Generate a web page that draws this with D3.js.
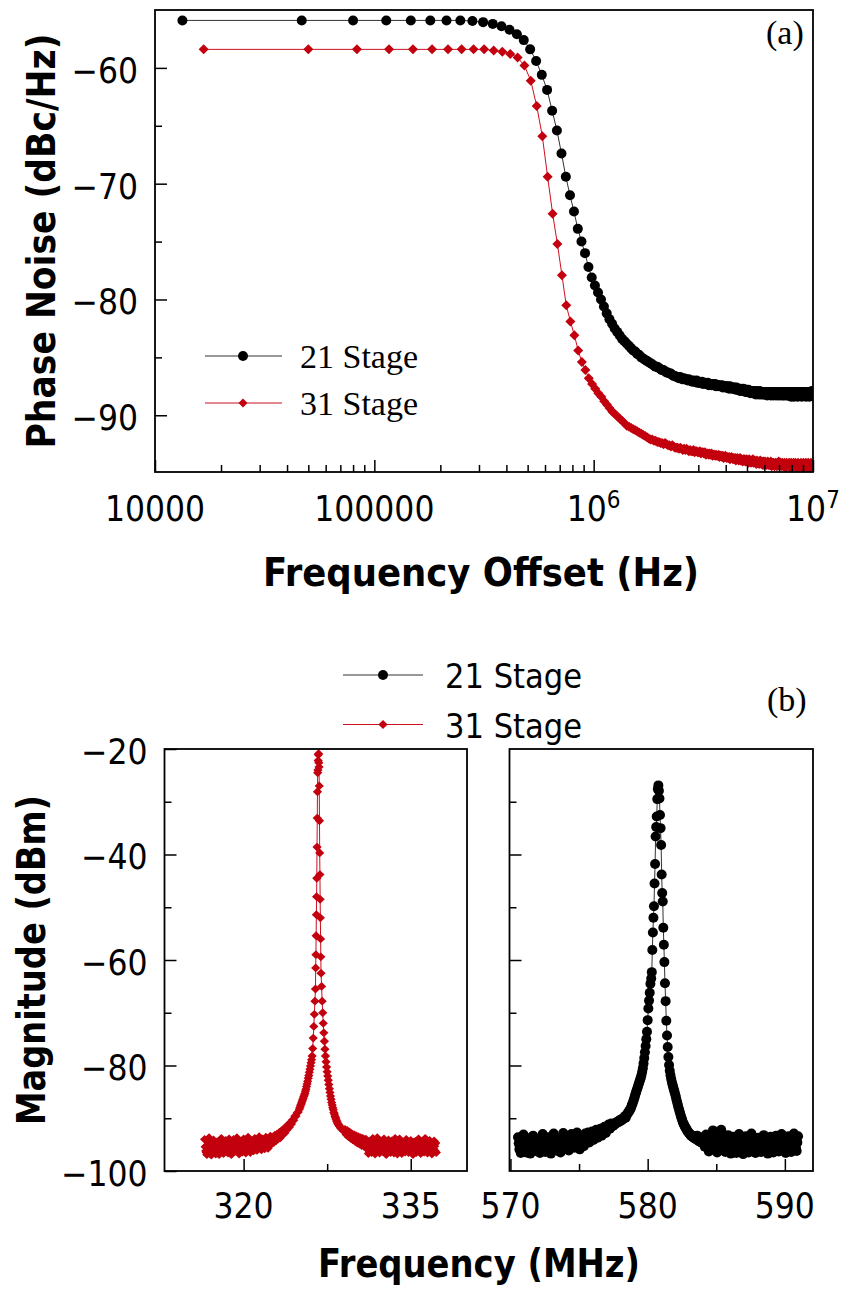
<!DOCTYPE html>
<html>
<head>
<meta charset="utf-8">
<script src="https://cdn.jsdelivr.net/npm/d3@7"></script>
<style>
  body { margin: 0; background: #fff; }
  svg { display: block; background: #fff; }
</style>
</head>
<body>
<svg id="fig" width="843" height="1289"></svg>
<script>
// ---------- panel (a): phase noise, sweep of 33.33 kHz steps ----------
const aFreqStart21 = 13333.3;
const aFreqStart31 = 16666.7;
const aFreqStep = 33333.3;

const a21Mag = [
  -55.9,-55.9,-55.9,-55.9,-55.9,-55.9,-55.9,-55.9,-55.95,-56.05,
  -56.2,-56.4,-56.7,-57.1,-57.6,-58.4,-59.4,-60.6,-61.9,-63.7,
  -65.4,-67.4,-69.4,-71.0,-72.4,-73.9,-75.0,-76.0,-77.2,-78.1,
  -78.8,-79.4,-80.0,-80.6,-81.2,-81.7,-82.1,-82.5,-82.8,-83.1,
  -83.4,-83.6,-83.8,-84.0,-84.2,-84.4,-84.5,-84.7,-84.8,-85.0,
  -85.1,-85.2,-85.3,-85.4,-85.5,-85.6,-85.7,-85.8,-85.8,-85.9,
  -86.0,-86.1,-86.1,-86.2,-86.3,-86.3,-86.4,-86.4,-86.5,-86.6,
  -86.6,-86.7,-86.7,-86.8,-86.7,-86.8,-86.9,-86.8,-86.9,-86.9,
  -87.0,-86.9,-87.0,-87.0,-87.1,-87.0,-87.1,-87.1,-87.0,-87.2,
  -87.1,-87.2,-87.2,-87.1,-87.3,-87.2,-87.2,-87.3,-87.3,-87.2,
  -87.4,-87.3,-87.3,-87.4,-87.3,-87.4,-87.4,-87.3,-87.5,-87.4,
  -87.4,-87.5,-87.4,-87.5,-87.5,-87.4,-87.6,-87.5,-87.5,-87.6,
  -87.5,-87.6,-87.5,-87.6,-87.7,-87.5,-87.6,-87.6,-87.7,-87.6,
  -87.7,-87.6,-87.7,-87.8,-87.6,-87.7,-87.8,-87.7,-87.8,-87.9,
  -87.7,-87.8,-87.8,-87.9,-87.7,-87.9,-87.8,-87.9,-88.0,-87.8,
  -87.9,-88.0,-87.8,-87.9,-88.0,-88.1,-87.9,-88.0,-87.9,-88.1,
  -88.0,-87.9,-88.1,-88.0,-88.2,-87.9,-88.0,-88.1,-88.0,-88.2,
  -88.1,-87.9,-88.1,-88.2,-88.0,-88.1,-88.0,-88.2,-88.1,-88.0,
  -88.2,-88.1,-88.0,-88.2,-88.1,-88.3,-88.0,-88.1,-88.2,-88.1,
  -88.0,-88.2,-88.3,-88.1,-88.0,-88.2,-88.1,-88.3,-88.2,-88.0,
  -88.1,-88.2,-88.0,-88.3,-88.2,-88.1,-88.0,-88.2,-88.3,-88.1,
  -88.2,-88.0,-88.1,-88.3,-88.2,-88.1,-88.2,-88.0,-88.3,-88.1,
  -88.2,-88.3,-88.1,-88.0,-88.2,-88.1,-88.3,-88.2,-88.0,-88.1,
  -88.3,-88.2,-88.1,-88.2,-88.0,-88.3,-88.1,-88.2,-88.4,-88.1,
  -88.0,-88.2,-88.3,-88.1,-88.2,-88.4,-88.0,-88.2,-88.1,-88.3,
  -88.2,-88.0,-88.3,-88.1,-88.2,-88.4,-88.1,-88.0,-88.2,-88.3,
  -88.1,-88.2,-88.3,-88.0,-88.2,-88.1,-88.4,-88.2,-88.0,-88.3,
  -88.2,-88.1,-88.3,-88.2,-88.0,-88.3,-88.1,-88.2,-88.4,-88.1,
  -88.2,-88.3,-88.0,-88.2,-88.1,-88.3,-88.2,-88.1,-88.4,-88.2,
  -88.0,-88.3,-88.2,-88.1,-88.3,-88.2,-87.9,-88.3,-88.1,-88.2
];

const a31Mag = [
  -58.4,-58.4,-58.4,-58.4,-58.4,-58.4,-58.4,-58.4,-58.4,-58.4,
  -58.5,-58.6,-58.8,-59.1,-59.8,-61.1,-63.3,-65.9,-69.4,-72.6,
  -75.2,-77.9,-80.5,-81.9,-83.1,-84.4,-85.4,-86.1,-86.8,-87.3,
  -87.7,-88.1,-88.4,-88.8,-89.1,-89.4,-89.7,-89.9,-90.1,-90.3,
  -90.5,-90.7,-90.9,-91.0,-91.1,-91.2,-91.3,-91.4,-91.5,-91.6,
  -91.7,-91.8,-91.9,-92.0,-92.1,-92.1,-92.2,-92.2,-92.3,-92.3,
  -92.4,-92.4,-92.5,-92.4,-92.5,-92.6,-92.6,-92.7,-92.6,-92.7,
  -92.8,-92.8,-92.8,-92.9,-92.8,-92.9,-93.0,-92.9,-93.0,-92.9,
  -93.0,-93.1,-93.0,-93.1,-93.1,-93.0,-93.2,-93.1,-93.1,-93.2,
  -93.2,-93.1,-93.3,-93.2,-93.2,-93.3,-93.2,-93.4,-93.3,-93.3,
  -93.4,-93.3,-93.4,-93.3,-93.5,-93.4,-93.4,-93.5,-93.4,-93.5,
  -93.5,-93.4,-93.6,-93.5,-93.5,-93.6,-93.5,-93.7,-93.6,-93.5,
  -93.6,-93.7,-93.6,-93.7,-93.6,-93.8,-93.7,-93.6,-93.7,-93.8,
  -93.7,-93.8,-93.7,-93.9,-93.8,-93.7,-93.8,-93.9,-93.8,-93.7,
  -93.9,-93.8,-93.9,-94.0,-93.8,-93.9,-93.8,-94.0,-93.9,-93.8,
  -94.0,-93.9,-94.1,-93.8,-93.9,-94.0,-94.1,-93.9,-94.0,-93.8,
  -94.1,-94.0,-93.9,-94.1,-94.0,-94.2,-93.9,-94.0,-94.1,-94.0,
  -94.2,-94.0,-93.9,-94.1,-94.2,-94.0,-94.1,-94.3,-94.0,-94.1,
  -94.2,-94.0,-94.1,-94.3,-94.1,-94.2,-94.0,-94.3,-94.2,-94.1,
  -94.3,-94.2,-94.0,-94.2,-94.4,-94.1,-94.2,-94.3,-94.1,-94.2,
  -94.4,-94.2,-94.1,-94.3,-94.2,-94.4,-94.1,-94.3,-94.2,-94.0,
  -94.3,-94.4,-94.2,-94.1,-94.3,-94.2,-94.4,-94.1,-94.3,-94.2,
  -94.4,-94.2,-94.1,-94.3,-94.5,-94.2,-94.3,-94.1,-94.4,-94.2,
  -94.3,-94.2,-94.4,-94.1,-94.3,-94.5,-94.2,-94.3,-94.1,-94.4,
  -94.2,-94.3,-94.5,-94.2,-94.1,-94.4,-94.3,-94.2,-94.4,-94.1,
  -94.3,-94.2,-94.4,-94.5,-94.2,-94.3,-94.1,-94.4,-94.2,-94.3,
  -94.5,-94.2,-94.3,-94.4,-94.1,-94.3,-94.2,-94.5,-94.3,-94.2,
  -94.4,-94.1,-94.3,-94.2,-94.5,-94.3,-94.2,-94.4,-94.1,-94.3,
  -94.2,-94.4,-94.3,-94.5,-94.2,-94.1,-94.4,-94.3,-94.2,-94.5,
  -94.3,-94.2,-94.4,-94.1,-94.3,-94.5,-94.2,-94.3,-94.4,-94.2
];

const aXTicks = [1e4, 1e5, 1e6, 1e7];
const aXLabelBase = ['10000', '100000', '10', '10'];
const aXLabelSup = ['', '', '6', '7'];
const aXMinor = [2e4,3e4,4e4,5e4,6e4,7e4,8e4,9e4, 2e5,3e5,4e5,5e5,6e5,7e5,8e5,9e5, 2e6,3e6,4e6,5e6,6e6,7e6,8e6,9e6];
const aYTicks = [-60, -70, -80, -90];
const aYMinor = [-65, -75, -85];

// ---------- panel (b): spectra in MHz, each sweep piece = [start, step, magnitudes] ----------
const b31FloorLow = [
  -94.0,-96.2,-96.9,-95.0,-93.7,-96.4,-97.0,-95.3,-94.1,-95.9,
  -96.8,-94.5,-95.4,-96.9,-94.8,-93.8,-96.1,-96.7,-95.2,-94.2,
  -95.7,-96.6,-93.9,-95.1,-96.9,-95.5,-94.0,-96.3,-94.9,-93.7,
  -95.9,-96.8,-94.4,-95.3,-96.4,-93.9,-94.8,-96.6,-95.1,-93.6,
  -95.6,-96.5,-94.3,-95.0,-96.2,-93.8,-94.6,-96.1,-94.9,-93.5,
  -95.2,-96.0,-93.9,-94.7,-95.8,-93.6,-94.5,-95.7,-94.1,-93.4,
  -94.9,-93.6,-94.6,-93.2,-94.3,-93.0,-93.9,-92.7,-93.7,-92.4,
  -93.1,-92.0,-92.8,-91.7,-92.2,-91.2,-91.7,-90.8,-91.1,-90.3,
  -90.4,-89.6,-89.6,-89.0,-88.8,-88.3
];
const b31FloorLowB = [
  -95.4,-96.5,-95.8,-94.6,-95.1,-96.3,-95.6,-94.7,-95.0,-96.0,
  -95.7,-94.9,-96.2,-95.8,-94.4,-95.3,-96.4,-95.7,-94.8,-95.0,
  -96.1,-95.4,-94.6,-95.9,-96.2,-94.8,-95.2,-95.6,-94.5,-94.9,
  -96.3,-95.5,-94.7,-96.0,-95.3,-94.6,-95.8,-95.5,-94.4,-94.9,
  -96.2,-95.1,-94.8,-95.7,-95.0,-94.5,-95.6,-95.2,-94.3,-94.6,
  -95.7,-94.9,-94.5,-95.5,-94.7,-94.4,-95.3,-94.8,-94.1,-94.3
];
const b31FlankLow = [
  -88.0,-87.7,-87.4,-87.1,-86.8,-86.5,-86.2,-85.9,-85.6,-85.3,
  -84.9,-84.5,-84.0,-83.5,-83.0,-82.4,-81.9,-81.3,-80.7,-80.1,
  -79.5,-78.9,-78.2,-76.8,-74.8,-72.6,-70.3,-67.8,-65.5
];
const b31Peak = [
  -61.5,-59.0,-55.4,-51.4,-48.0,-44.5,-38.6,-33.1,-28.1,-24.5,-24.0,-22.2,-21.1,
  -20.9,-22.6,-23.4,-27.0,-33.6,-39.7,-43.8,-48.5,-52.0,-56.0,-59.4,-62.5
];
const b31FlankHigh = [
  -65.0,-67.8,-70.0,-72.0,-73.8,-75.4,-76.9,-78.2,-79.3,-80.3,
  -81.2,-82.0,-82.8,-83.6,-84.4,-85.1,-85.8,-86.4,-87.0,-87.5,
  -88.0,-88.4,-88.9,-89.2,-89.6,-89.9,-90.2,-90.5,-90.7,-91.0,
  -91.2,-91.3,-91.5,-91.6,-91.8,-91.9,-92.0,-92.1,-92.2,-92.3,
  -92.4
];
const b31FloorHigh = [
  -92.1,-93.1,-92.3,-93.5,-92.6,-93.8,-92.9,-94.1,-93.1,-94.4,
  -93.3,-94.7,-93.5,-94.9,-93.7,-95.2,-93.8,-95.3,-94.0,
  -94.0,-95.9,-96.7,-94.4,-95.3,-96.5,-93.8,-95.0,-96.8,-94.9,
  -93.7,-96.1,-96.6,-94.5,-95.4,-96.3,-93.9,-94.8,-96.9,-95.6,
  -94.1,-95.8,-96.5,-94.3,-95.2,-96.6,-93.8,-95.5,-96.8,-95.0,
  -93.9,-96.2,-96.7,-94.6,-95.6,-96.4,-94.0,-94.9,-96.5,-95.8,
  -94.2,-95.3,-96.9,-94.8,-94.4,-96.5,-95.5,-93.9,-96.0,-96.7,
  -94.6,-95.2,-96.4,-93.8,-95.7,-96.6,-95.0,-94.2,-95.9,-96.8,
  -94.9,-94.3,-96.2,-96.5
];
const b31FloorHighB = [
  -95.0,-94.8,-95.6,-95.7,-94.6,-95.9,-95.1,-94.4,-95.8,-96.0,
  -95.2,-94.9,-95.5,-96.2,-94.8,-95.0,-95.7,-94.6,-95.4,-96.1,
  -94.9,-95.3,-95.9,-94.7,-95.6,-96.0,-94.5,-95.2,-95.8,-95.3,
  -94.6,-95.5,-96.1,-94.8,-95.1,-95.9,-94.7,-95.4,-95.6,-94.9,
  -95.7,-96.0,-94.6,-95.3,-95.8,-94.5,-95.0,-96.2,-95.4,-94.7,
  -95.5,-95.9,-94.8,-95.2,-96.0,-94.6,-95.4,-95.7,-94.9,-95.1,
  -95.8,-95.3,-94.7
];
const b31Sweeps = [
  [316.5, 0.1, b31FloorLow],
  [316.55, 0.1, b31FloorLowB],
  [325.05, 0.05, b31FlankLow],
  [326.47, 0.02, b31Peak],
  [327.0, 0.05, b31FlankHigh],
  [329.1, 0.1, b31FloorHigh],
  [331.05, 0.1, b31FloorHighB]
];

const b21FloorLow = [
  -93.6,-95.9,-96.6,-94.5,-93.1,-95.6,-96.5,-94.0,-94.9,-96.7,
  -95.2,-93.3,-94.5,-96.2,-93.9,-95.4,-96.6,-94.8,-93.0,-95.8,
  -96.4,-94.3,-93.6,-95.9,-96.7,-94.5,-92.9,-94.9,-96.1,-93.8,
  -95.2,-96.5,-94.1,-92.8,-94.7,-95.7,-93.5,-96.1,-94.8,-93.0,
  -94.4,-95.6,-93.7,-92.7,-95.0,-95.9,-93.4,-94.6,-95.3,-92.9,
  -94.0,-92.7,-94.6,-93.4,-92.5,-94.1,-93.0,-92.2,-93.7,-92.5,
  -92.0,-93.3,-92.2,-91.6,-92.8,-91.6,-91.2,-92.0,-91.0
];
const b21FloorLowB = [
  -94.8,-94.9,-95.3,-95.6,-94.2,-94.5,-95.2,-95.0,-93.8,-95.5,
  -95.9,-94.1,-95.0,-95.3,-94.4,-94.7,-95.8,-93.9,-94.6,-95.2,
  -95.1,-94.0,-94.8,-95.6,-95.0,-93.7,-94.6,-95.5,-95.0,-94.1,
  -95.7,-95.3,-93.9,-94.4,-95.1,-94.6,-94.8,-95.4,-93.8,-94.3,
  -95.0,-94.7,-93.6,-94.2,-95.3,-94.5,-94.1,-94.9,-93.8
];
const b21FlankLow = [
  -91.5,-91.3,-91.4,-91.1,-91.2,-90.9,-91.0,-90.7,-90.8,-90.6,
  -90.7,-90.4,-90.5,-90.3,-90.4,-90.1,-90.2,-89.9,-89.9,-89.6,
  -89.9,-89.4,-89.3,-89.0,-88.9,-88.6,-88.5,-88.2,-87.9,-87.5,
  -87.2,-86.8,-86.4,-86.0,-85.5,-85.1,-84.7,-84.3,-83.9,-83.5,
  -83.1,-82.7,-82.3,-81.8,-81.2,-80.5,-79.6,-78.6,-77.5,-76.3,
  -75.0,-73.6,-71.4,-69.2,-67.7,-66.2,-64.5
];
const b21Peak = [
  -63.5,-62.3,-58.1,-54.8,-52.0,-49.8,-45.5,-41.8,-36.6,-34.8,-32.8,-29.5,-27.6,
  -26.9,-27.9,-29.4,-32.5,-35.0,-38.2,-43.8,-47.3,-48.9,-53.9,-57.1,-60.4
];
const b21FlankHigh = [
  -64.4,-67.8,-71.5,-74.3,-76.5,-78.4,-79.9,-81.0,-81.8,-82.5,
  -83.1,-83.6,-84.1,-84.6,-85.0,-85.5,-86.0,-86.6,-87.1,-87.6,
  -88.1,-88.6,-89.0,-89.5,-89.9,-90.3,-90.7,-91.0,-91.3,-91.5,
  -91.8,-92.0,-92.2,-92.5,-92.6,-92.8,-93.0,-93.1,-93.3,-93.2,
  -93.5,-93.4,-93.7,-93.5,-93.9,-93.6,-94.0,-93.3,-94.2,-93.8,
  -94.4,-93.6,-94.5,-94.0,-94.7,-93.9,-94.6
];
const b21FloorHigh = [
  -95.4,-93.1,-94.8,-96.3,-93.4,-94.6,-92.3,-93.0,-95.6,-96.5,
  -94.1,-92.6,-92.2,-93.5,-95.5,-96.4,-94.6,-93.2,-95.7,-96.7,
  -94.9,-93.5,-95.9,-96.6,-94.2,-93.0,-94.8,-96.2,-96.8,-94.6,
  -93.4,-95.1,-96.5,-94.0,-92.9,-94.6,-95.8,-96.6,-94.9,-93.7,
  -95.4,-96.4,-94.1,-93.2,-94.9,-96.1,-96.7,-94.7,-93.5,-95.5,
  -96.5,-94.4,-93.3,-95.3,-96.3,-94.2,-93.0,-94.7,-96.0,-96.6,
  -94.5,-93.4,-95.4,-96.4,-94.1,-92.9,-94.8,-96.2,-93.4
];
const b21FloorHighB = [
  -94.2,-94.0,-95.5,-94.9,-93.8,-93.5,-93.6,-94.4,-95.9,-95.2,
  -93.3,-93.4,-93.9,-94.6,-95.8,-95.0,-94.1,-94.3,-96.0,-95.4,
  -94.3,-94.8,-96.1,-95.3,-93.7,-94.1,-95.6,-95.5,-95.1,-94.0,
  -94.3,-95.9,-95.2,-93.6,-94.0,-95.3,-96.0,-95.6,-94.1,-94.5,
  -96.0,-95.1,-93.8,-94.3,-95.6,-96.2,-95.5,-94.2,-94.6,-95.9,
  -95.3,-93.8,-94.4,-95.9,-95.2,-93.7,-94.0,-95.6,-96.1,-95.2,
  -94.1,-94.6,-96.0,-95.0,-93.6,-94.0,-95.6,-94.6
];
const b21Sweeps = [
  [570.55, 0.1, b21FloorLow],
  [570.6, 0.1, b21FloorLowB],
  [577.40, 0.05, b21FlankLow],
  [580.26, 0.04, b21Peak],
  [581.26, 0.05, b21FlankHigh],
  [584.16, 0.1, b21FloorHigh],
  [584.21, 0.1, b21FloorHighB]
];

const bYTicks = [-20, -40, -60, -80, -100];
const bYMinor = [-30, -50, -70, -90];
const bLeftXTicks = [320, 335];
const bLeftXMinor = [327.5];
const bRightXTicks = [570, 580, 590];
const bRightXMinor = [575, 585];

const seriesNames = ['21 Stage', '31 Stage'];

// ---------- drawing ----------
const svg = d3.select('#fig');
const NUM_FONT = "'DejaVu Sans Condensed', 'DejaVu Sans', sans-serif";
const SERIF = "'Liberation Serif', 'Times New Roman', serif";
const RED = '#c3000e';
const RED_LINE = '#cc1020';
const BLACK_LINE = '#333';

const circlePath = r => d3.symbol(d3.symbolCircle, Math.PI * r * r)();
const diamondPath = (w, h) => `M0,${-h}L${w},0L0,${h}L${-w},0Z`;

// interleaved sweep pieces -> one list ordered by frequency
function sweepPoints(sweeps) {
    const pts = [];
    sweeps.forEach(([start, step, mags]) => {
        mags.forEach((m, i) => pts.push({ f: start + i * step, m: m }));
    });
    return pts.sort((a, b) => a.f - b.f);
}

function drawSeries(g, pts, x, y, fill, lineColor, marker) {
    g.append('path')
        .datum(pts)
        .attr('fill', 'none')
        .attr('stroke', lineColor)
        .attr('stroke-width', 1)
        .attr('d', d3.line().x(d => x(d.f)).y(d => y(d.m)));
    g.append('g').selectAll('path')
        .data(pts)
        .enter()
        .append('path')
        .attr('d', marker)
        .attr('fill', fill)
        .attr('transform', d => `translate(${x(d.f)},${y(d.m)})`);
}

function panelBase(id, box) {
    const g = svg.append('g');
    g.append('clipPath').attr('id', id)
        .append('rect')
        .attr('x', box.left).attr('y', box.top)
        .attr('width', box.right - box.left).attr('height', box.bottom - box.top);
    return g;
}

// inward ticks, drawn with d3 axes (labels optional)
function yTicks(g, y, x0, major, minor, withLabels) {
    g.append('g')
        .attr('transform', `translate(${x0},0)`)
        .call(d3.axisLeft(y).tickValues(major).tickSize(-12).tickPadding(17)
            .tickFormat(withLabels ? d3.format('d') : ''))
        .call(a => a.select('.domain').remove())
        .call(a => a.selectAll('line').attr('stroke-width', 1.5))
        .call(a => a.selectAll('text').attr('dy', '0.41em'))
        .attr('font-size', 35).attr('font-family', NUM_FONT);
    g.append('g')
        .attr('transform', `translate(${x0},0)`)
        .call(d3.axisLeft(y).tickValues(minor).tickSize(-7).tickFormat(''))
        .call(a => a.select('.domain').remove())
        .call(a => a.selectAll('line').attr('stroke-width', 1.5));
}

function xTicks(g, x, y0, major, minor) {
    g.append('g')
        .attr('transform', `translate(0,${y0})`)
        .call(d3.axisBottom(x).tickValues(major).tickSize(-12).tickFormat(''))
        .call(a => a.select('.domain').remove())
        .call(a => a.selectAll('line').attr('stroke-width', 1.5));
    g.append('g')
        .attr('transform', `translate(0,${y0})`)
        .call(d3.axisBottom(x).tickValues(minor).tickSize(-7).tickFormat(''))
        .call(a => a.select('.domain').remove())
        .call(a => a.selectAll('line').attr('stroke-width', 1.5));
}

function frame(g, box) {
    g.append('rect')
        .attr('x', box.left).attr('y', box.top)
        .attr('width', box.right - box.left).attr('height', box.bottom - box.top)
        .attr('fill', 'none').attr('stroke', '#000').attr('stroke-width', 1.8);
}

function title(text, x, y, len, rotate) {
    svg.append('text')
        .attr('transform', `translate(${x},${y})` + (rotate ? ' rotate(-90)' : ''))
        .attr('text-anchor', 'middle')
        .attr('font-family', NUM_FONT)
        .attr('font-weight', 'bold')
        .attr('font-size', 39)
        .attr('textLength', len)
        .attr('lengthAdjust', 'spacingAndGlyphs')
        .text(text);
}

// ----- panel (a) -----
const boxA = { left: 155, right: 813, top: 10, bottom: 472 };
const xA = d3.scaleLog().domain([1e4, 1e7]).range([boxA.left, boxA.right]);
const yA = d3.scaleLinear().domain([-94.9, -55]).range([boxA.bottom, boxA.top]);
const gA = panelBase('clipA', boxA);

const a21 = a21Mag.map((m, i) => ({ f: aFreqStart21 + i * aFreqStep, m: m }));
const a31 = a31Mag.map((m, i) => ({ f: aFreqStart31 + i * aFreqStep, m: m }));
const gAData = gA.append('g').attr('clip-path', 'url(#clipA)');
drawSeries(gAData, a31, xA, yA, RED, RED_LINE, diamondPath(5, 5));
drawSeries(gAData, a21, xA, yA, '#000', BLACK_LINE, circlePath(5));

yTicks(gA, yA, boxA.left, aYTicks, aYMinor, true);
xTicks(gA, xA, boxA.bottom, aXTicks, aXMinor);
frame(gA, boxA);

aXTicks.forEach((v, i) => {
    const t = gA.append('text')
        .attr('x', xA(v)).attr('y', 521)
        .attr('text-anchor', 'middle')
        .attr('font-family', NUM_FONT).attr('font-size', 35)
        .text(aXLabelBase[i]);
    if (aXLabelSup[i]) {
        t.append('tspan').attr('dy', -13).attr('font-size', 24).text(aXLabelSup[i]);
    }
});

// legend (a)
const legA = [{ y: 356, fill: '#000', line: BLACK_LINE, mk: circlePath(5) },
              { y: 403, fill: RED, line: RED_LINE, mk: diamondPath(4.5, 4.5) }];
legA.forEach((d, i) => {
    gA.append('line').attr('x1', 205).attr('x2', 282).attr('y1', d.y).attr('y2', d.y)
        .attr('stroke', d.line).attr('stroke-width', 1.2);
    gA.append('path').attr('d', d.mk).attr('fill', d.fill).attr('transform', `translate(243,${d.y})`);
    gA.append('text').attr('x', 300).attr('y', d.y + 12)
        .attr('font-family', SERIF).attr('font-size', 34).text(seriesNames[i]);
});
gA.append('text').attr('x', 766).attr('y', 44)
    .attr('font-family', SERIF).attr('font-size', 34).text('(a)');

title('Frequency Offset (Hz)', 481, 586, 436, false);
title('Phase Noise (dBc/Hz)', 55, 241, 415, true);

// ----- panel (b) -----
const yB = d3.scaleLinear().domain([-100, -20]).range([1171, 749]);
const boxBL = { left: 164.5, right: 467, top: 749, bottom: 1171 };
const boxBR = { left: 509.5, right: 813, top: 749, bottom: 1171 };
const xBL = d3.scaleLinear().domain([312.9, 340.05]).range([boxBL.left, boxBL.right]);
const xBR = d3.scaleLinear().domain([569.93, 592.05]).range([boxBR.left, boxBR.right]);

const gBL = panelBase('clipBL', boxBL);
drawSeries(gBL.append('g').attr('clip-path', 'url(#clipBL)'),
    sweepPoints(b31Sweeps), xBL, yB, RED, RED_LINE, diamondPath(4.6, 4.4));
yTicks(gBL, yB, boxBL.left, bYTicks, bYMinor, true);
xTicks(gBL, xBL, boxBL.bottom, bLeftXTicks, bLeftXMinor);
frame(gBL, boxBL);

const gBR = panelBase('clipBR', boxBR);
drawSeries(gBR.append('g').attr('clip-path', 'url(#clipBR)'),
    sweepPoints(b21Sweeps), xBR, yB, '#000', BLACK_LINE, circlePath(5));
yTicks(gBR, yB, boxBR.left, bYTicks.slice(1, 4), bYMinor, false);
xTicks(gBR, xBR, boxBR.bottom, bRightXTicks, bRightXMinor);
frame(gBR, boxBR);

[[xBL, bLeftXTicks], [xBR, bRightXTicks]].forEach(([x, ticks]) => {
    ticks.forEach(v => {
        svg.append('text')
            .attr('x', x(v)).attr('y', 1218)
            .attr('text-anchor', 'middle')
            .attr('font-family', NUM_FONT).attr('font-size', 35)
            .text(v);
    });
});

// legend (b)
const legB = [{ y: 675, fill: '#000', line: BLACK_LINE, mk: circlePath(5) },
              { y: 724.5, fill: RED, line: RED_LINE, mk: diamondPath(4.6, 4.6) }];
legB.forEach((d, i) => {
    svg.append('line').attr('x1', 343).attr('x2', 423).attr('y1', d.y).attr('y2', d.y)
        .attr('stroke', d.line).attr('stroke-width', 1.2);
    svg.append('path').attr('d', d.mk).attr('fill', d.fill).attr('transform', `translate(383,${d.y})`);
    svg.append('text').attr('x', 445).attr('y', d.y + 13)
        .attr('font-family', NUM_FONT).attr('font-size', 34).text(seriesNames[i]);
});
svg.append('text').attr('x', 767).attr('y', 711)
    .attr('font-family', SERIF).attr('font-size', 34).text('(b)');

title('Frequency (MHz)', 479, 1277, 322, false);
title('Magnitude (dBm)', 45, 960, 330, true);
</script>
</body>
</html>
